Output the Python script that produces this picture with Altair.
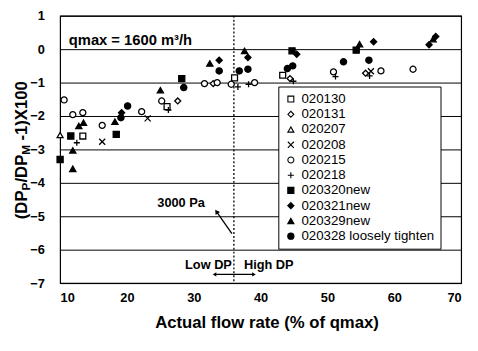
import altair as alt
import pandas as pd

FONT = "Liberation Sans"

series_names = ["020130", "020131", "020207", "020208", "020215", "020218",
                "020320new", "020321new", "020329new", "020328 loosely tighten"]
series_shapes = ["square", "diamond", "triangle-up", "M-1,-1L1,1M-1,1L1,-1", "circle",
                 "M-1,0L1,0M0,-1L0,1", "square", "diamond", "triangle-up", "circle"]
series_fills = ["white", "white", "white", "white", "white", "white",
                "black", "black", "black", "black"]
series_strokes = ["black"] * 10
series_sizes = [36, 40, 38, 38, 36, 48, 60, 55, 100, 190]

x_020130 = [13.4, 26.0, 36.1, 43.3]
y_020130 = [-2.6, -1.72, -0.86, -0.78]
x_020131 = [27.6, 32.9, 44.4, 55.7]
y_020131 = [-1.55, -1.03, -0.88, -0.72]
x_020207 = [10.0]
y_020207 = [-2.57]
x_020208 = [16.3, 23.1, 56.5]
y_020208 = [-2.77, -2.07, -0.66]
x_020215 = [10.6, 11.9, 13.4, 16.3, 22.2, 25.2, 31.6, 33.5, 35.6, 39.1, 50.9, 58.0, 62.8]
y_020215 = [-1.52, -1.96, -1.9, -2.28, -1.87, -1.55, -1.03, -1.0, -1.05, -1.0, -0.68, -0.65, -0.6]
x_020218 = [12.5, 26.2, 36.6, 38.2, 44.9, 51.2, 56.3]
y_020218 = [-2.8, -1.82, -1.13, -1.05, -0.96, -0.82, -0.8]
x_020320 = [10.0, 11.6, 18.4, 28.2, 44.7, 54.3]
y_020320 = [-3.3, -2.6, -2.55, -0.88, -0.05, -0.03]
x_020321 = [19.2, 33.8, 38.1, 45.4, 56.9, 65.2, 66.2]
y_020321 = [-1.9, -0.33, -0.25, -0.15, 0.22, 0.13, 0.38]
x_020329 = [11.9, 11.9, 12.8, 13.5, 18.2, 25.0, 32.4, 37.6, 54.8, 65.8]
y_020329 = [-3.03, -3.58, -2.3, -2.2, -2.17, -1.23, -0.43, -0.05, 0.15, 0.3]
x_020328 = [19.1, 20.1, 28.5, 33.8, 36.8, 38.1, 44.0, 44.8, 52.4, 56.2]
y_020328 = [-2.05, -1.7, -1.15, -0.65, -0.65, -0.6, -0.58, -0.5, -0.38, -0.33]

xs = [x_020130, x_020131, x_020207, x_020208, x_020215, x_020218,
      x_020320, x_020321, x_020329, x_020328]
ys = [y_020130, y_020131, y_020207, y_020208, y_020215, y_020218,
      y_020320, y_020321, y_020329, y_020328]

rows = []
for name, xl, yl in zip(series_names, xs, ys):
    for a, b in zip(xl, yl):
        rows.append({"series": name, "x": a, "y": b})
df = pd.DataFrame(rows)

x_ticks = [10, 20, 30, 40, 50, 60, 70]
y_ticks = [-7, -6, -5, -4, -3, -2, -1, 0, 1]

xsc = alt.Scale(domain=[10, 70], nice=False, zero=False)
ysc = alt.Scale(domain=[-7, 1], nice=False, zero=False)

x_axis = alt.Axis(values=x_ticks, title="Actual flow rate (% of qmax)",
                  grid=False, ticks=False, domain=False, labelOverlap=False,
                  labelFont=FONT, labelFontSize=13, labelFontWeight="bold",
                  labelColor="black", labelPadding=9,
                  titleFont=FONT, titleFontSize=17, titleFontWeight="bold",
                  titleColor="black", titlePadding=10, titleX=210)
y_axis = alt.Axis(values=y_ticks, title=None, grid=True,
                  gridColor="black", gridWidth=1, gridOpacity=1,
                  ticks=False, domain=False, labelOverlap=False,
                  labelFont=FONT, labelFontSize=13, labelFontWeight="bold",
                  labelColor="black", labelPadding=16)


def X(field="x:Q"):
    return alt.X(field, scale=xsc, axis=x_axis)


def Y(field="y:Q"):
    return alt.Y(field, scale=ysc, axis=y_axis)


leg = alt.Legend(title=None, orient="none", legendX=222, legendY=72)

points = alt.Chart(df).mark_point(filled=True, strokeWidth=1.3, opacity=1).encode(
    x=X(), y=Y(),
    shape=alt.Shape("series:N", scale=alt.Scale(domain=series_names, range=series_shapes), legend=leg),
    fill=alt.Fill("series:N", scale=alt.Scale(domain=series_names, range=series_fills), legend=leg),
    stroke=alt.Stroke("series:N", scale=alt.Scale(domain=series_names, range=series_strokes), legend=leg),
    size=alt.Size("series:N", scale=alt.Scale(domain=series_names, range=series_sizes), legend=leg),
)

# vertical dashed threshold line
thr_x = [36]
vline = alt.Chart(pd.DataFrame({"x": thr_x})).mark_rule(color="black", strokeDash=[2, 2], strokeWidth=1.3).encode(
    x=X())

# "3000 Pa" arrow
arrow_x = [35.7, 33.4]
arrow_y = [-5.52, -4.86]
arr_df = pd.DataFrame({"x": arrow_x, "y": arrow_y, "o": [0, 1]})
arrow_line = alt.Chart(arr_df).mark_line(color="black", strokeWidth=1.3).encode(
    x=X(), y=Y(), order="o:Q")
arrow_head = alt.Chart(arr_df.iloc[[1]]).mark_point(shape="triangle-up", filled=True, color="black",
                                                     size=30, angle=325, opacity=1).encode(x=X(), y=Y())

# Low/High DP double arrow
dp_x = [33.1, 39.0]
dp_y = [-6.74, -6.74]
dp_df = pd.DataFrame({"x": dp_x, "y": dp_y, "ang": [270, 90]})
dp_line = alt.Chart(dp_df).mark_line(color="black", strokeWidth=1.2).encode(x=X(), y=Y())
dp_heads = alt.Chart(dp_df).mark_point(shape="triangle-up", filled=True, color="black",
                                       size=18, opacity=1).encode(
    x=X(), y=Y(), angle=alt.Angle("ang:Q", scale=None))

# text annotations
ann_text = ["qmax = 1600 m\u00b3/h", "3000 Pa", "Low DP", "High DP"]
ann_x = [11.3, 28.1, 35.7, 37.5]
ann_y = [0.28, -4.62, -6.45, -6.45]
ann_align = ["left", "center", "right", "left"]
ann_size = [15, 13, 13, 13]
ann_layers = []
for t, a, b, al, fs in zip(ann_text, ann_x, ann_y, ann_align, ann_size):
    ann_layers.append(alt.Chart(pd.DataFrame({"x": [a], "y": [b], "t": [t]})).mark_text(
        font=FONT, fontSize=fs, fontWeight="bold", color="black", align=al, baseline="middle").encode(
        x=X(), y=Y(), text="t:N"))

# y-axis title with subscripts
yt_text = ["(DP", "P", "/DP", "M", "-1)X100"]
yt_size = [17, 12, 17, 12, 17]
yt_xpos = [-39, -34.5, -39, -34.5, -39]
yt_ypos = [207, 177.7, 169.7, 141.4, 127]
yt_layers = []
for t, fs, xp, yp in zip(yt_text, yt_size, yt_xpos, yt_ypos):
    yt_layers.append(alt.Chart(pd.DataFrame({"t": [t]})).mark_text(
        font=FONT, fontSize=fs, fontWeight="bold", color="black", align="left", baseline="middle",
        angle=270).encode(x=alt.value(xp), y=alt.value(yp), text="t:N"))

chart = alt.layer(vline, points, arrow_line, arrow_head, dp_line, dp_heads, *ann_layers, *yt_layers).properties(
    width=408, height=272,
    autosize=alt.AutoSizeParams(type="none"),
    padding={"left": 53, "top": 5, "right": 9, "bottom": 55},
).configure_view(stroke="black", strokeWidth=1.2).configure_legend(
    fillColor="white", strokeColor="black", strokeWidth=1, padding=6,
    labelFont=FONT, labelFontSize=13.5, labelColor="black", labelLimit=300,
    symbolStrokeWidth=1.1, rowPadding=0.5, labelOffset=4,
    cornerRadius=0
)

chart.save("out.html", embed_options={"renderer": "svg", "actions": False})
